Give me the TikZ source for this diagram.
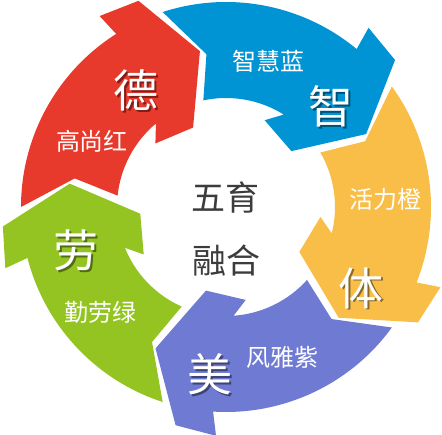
\documentclass[tikz,border=0pt]{standalone}
\usepackage{fontspec}
\newfontfamily\cjk{Noto Sans CJK SC}
\usetikzlibrary{calc}
\definecolor{cred}{HTML}{E73A2C}
\definecolor{cblue}{HTML}{0094D5}
\definecolor{corange}{HTML}{F8BE48}
\definecolor{cpurple}{HTML}{6F7AD2}
\definecolor{cgreen}{HTML}{93C422}
\definecolor{textgray}{HTML}{3C3C3C}
\tikzset{
  bigch/.style={inner sep=0pt, text=white, font=\cjk\fontsize{45}{45}\selectfont},
  smallch/.style={inner sep=0pt, text=white, font=\cjk\fontsize{24}{24}\selectfont},
  centerch/.style={inner sep=0pt, text=textgray, font=\cjk\fontsize{34}{34}\selectfont},
}
\newcommand\ringarrow[2]{%
  \fill[#2] (#1+180:205) arc[start angle=#1+180, end angle=#1+122.4, radius=205]
    -- (#1+123.5:229) -- (#1+113:224) -- (#1+99.5:158) -- (#1+112.5:86)
    -- (#1+138:95) -- (#1+130:109)
    arc[start angle=#1+130, end angle=#1+174, radius=109]
    -- (#1+169.3:154) -- cycle;}
% one node: a darker copy offset down-right, then the white glyph on top
\newcommand\shadowglyph[2]{%
  \makebox[0pt][l]{\hspace{1.8pt}\raisebox{-1.8pt}{\textcolor{#1}{#2}}}#2}
\begin{document}
\begin{tikzpicture}[x=1pt,y=1pt]
  \useasboundingbox (0,0) rectangle (442,434);
  \begin{scope}[shift={(226,227)}]
    \ringarrow{0}{cred}
    \ringarrow{-72}{cblue}
    \ringarrow{-144}{corange}
    \ringarrow{144}{cpurple}
    \ringarrow{72}{cgreen}
  \end{scope}
  \node[bigch] (de)  at (136,343) {\shadowglyph{cred!55!black}{德}};
  \node[bigch] (zhi) at (331,327) {\shadowglyph{cblue!55!black}{智}};
  \node[bigch] (ti)  at (361,145) {\shadowglyph{corange!55!black}{体}};
  \node[bigch] (mei) at (210,59)  {\shadowglyph{cpurple!55!black}{美}};
  \node[bigch] (lao) at (76,183)  {\shadowglyph{cgreen!55!black}{劳}};
  \node[smallch] (lred) at (92,293) {高尚红};
  \node[smallch] (lblue) at (268,373) {智慧蓝};
  \node[smallch] (lorange) at (385,235) {活力橙};
  \node[smallch] (lpurple) at (282,77) {风雅紫};
  \node[smallch] (lgreen) at (100,122) {勤劳绿};
  \node[centerch] (c1) at (225,237) {五育};
  \node[centerch] (c2) at (226,173) {融合};
\end{tikzpicture}
\end{document}
